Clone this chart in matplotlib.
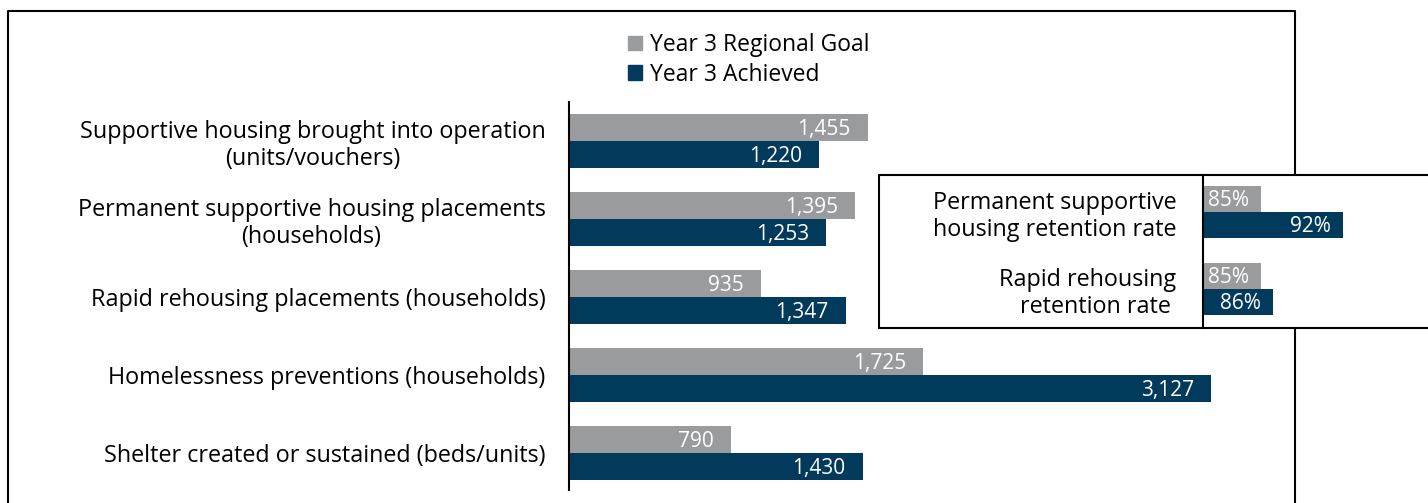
import matplotlib
matplotlib.use('Agg')
import matplotlib.pyplot as plt
from matplotlib.lines import Line2D
from matplotlib.patches import Rectangle, Patch

plt.rcParams['font.family'] = ['Open Sans', 'DejaVu Sans']

# data
categories = ['Supportive housing brought into operation\n(units/vouchers)',
              'Permanent supportive housing placements\n(households)',
              'Rapid rehousing placements (households)',
              'Homelessness preventions (households)',
              'Shelter created or sustained (beds/units)']
goal = [1455, 1395, 935, 1725, 790]
achieved = [1220, 1253, 1347, 3127, 1430]

rate_categories = ['Permanent supportive\nhousing retention rate',
                   'Rapid rehousing\nretention rate ']
rate_goal = [85, 85]
rate_achieved = [92, 86]

series_names = ['Year 3 Regional Goal', 'Year 3 Achieved']
GRAY = '#9A9B9D'
NAVY = '#023A5B'

W, H = 1428, 503
fig = plt.figure(figsize=(W / 100, H / 100), dpi=100)

def fx(px):
    return px / W

def fy(py):
    return 1 - py / H

# outer frame (left, top, right)
fig.add_artist(Line2D([fx(8), fx(8), fx(1295), fx(1295)],
                      [fy(510), fy(11), fy(11), fy(510)],
                      transform=fig.transFigure, color='black', lw=1.5))

# main chart
ax = fig.add_axes([fx(569), fy(490), fx(1290 - 569), fy(102) - fy(490)])
px_per_unit = (1211 - 569) / 3127
ax.set_xlim(0, (1290 - 569) / px_per_unit)
ax.set_ylim(4 + (490 - 453) / 78, -(141 - 102) / 78)
h = 0.345
y = list(range(len(categories)))
b1 = ax.barh([v - h / 2 for v in y], goal, height=h, color=GRAY)
b2 = ax.barh([v + h / 2 for v in y], achieved, height=h, color=NAVY)
for bars, vals in ((b1, goal), (b2, achieved)):
    for bar, v in zip(bars, vals):
        ax.text(bar.get_width() - 17 / px_per_unit, bar.get_y() + bar.get_height() / 2 + 0.02,
                f'{v:,}', ha='right', va='center', color='white', fontsize=15)
ax.set_yticks(y)
ax.set_yticklabels(categories, fontsize=16.8, multialignment='center',
                   linespacing=1.18)
ax.tick_params(axis='y', length=0, pad=17)
ax.set_xticks([])
for s in ['top', 'right', 'bottom']:
    ax.spines[s].set_visible(False)
ax.spines['left'].set_linewidth(1.5)
ax.patch.set_alpha(0)

# legend
handles = [Patch(color=GRAY), Patch(color=NAVY)]
fig.legend(handles, series_names, loc='upper left',
           bbox_to_anchor=(fx(628), fy(33)), frameon=False, fontsize=16.5,
           handlelength=0.62, handleheight=0.62, handletextpad=0.35,
           labelspacing=0.25, borderpad=0, borderaxespad=0)

# inset box
fig.add_artist(Rectangle((fx(879), fy(328)), fx(1440 - 879), fy(175) - fy(328),
                         transform=fig.transFigure, facecolor='white',
                         edgecolor='black', lw=1.5, zorder=3))

ax2 = fig.add_axes([fx(1203), fy(328), fx(W - 1203), fy(175) - fy(328)])
ax2.set_zorder(5)
px_per_pct = (1343 - 1203) / (92 - 80)
ax2.set_xlim(80, 80 + (W - 1203) / px_per_pct)
ax2.set_ylim(1 + (328 - 289) / 77, -(212 - 175) / 77)
h2 = 26 / 77
y2 = list(range(len(rate_categories)))
r1 = ax2.barh([v - h2 / 2 for v in y2], rate_goal, height=h2, color=GRAY, left=0)
r2 = ax2.barh([v + h2 / 2 for v in y2], rate_achieved, height=h2, color=NAVY, left=0)
for bars, vals in ((r1, rate_goal), (r2, rate_achieved)):
    for bar, v in zip(bars, vals):
        ax2.text(bar.get_width() - 12 / px_per_pct, bar.get_y() + bar.get_height() / 2 + 0.02,
                 f'{v}%', ha='right', va='center', color='white', fontsize=15)
ax2.set_yticks(y2)
ax2.set_yticklabels(rate_categories, fontsize=16.8, multialignment='right',
                    linespacing=1.18)
ax2.tick_params(axis='y', length=0, pad=19)
ax2.set_xticks([])
for s in ['top', 'right', 'bottom']:
    ax2.spines[s].set_visible(False)
ax2.spines['left'].set_linewidth(1.5)
ax2.patch.set_alpha(0)

fig.savefig('out.png', dpi=100)
